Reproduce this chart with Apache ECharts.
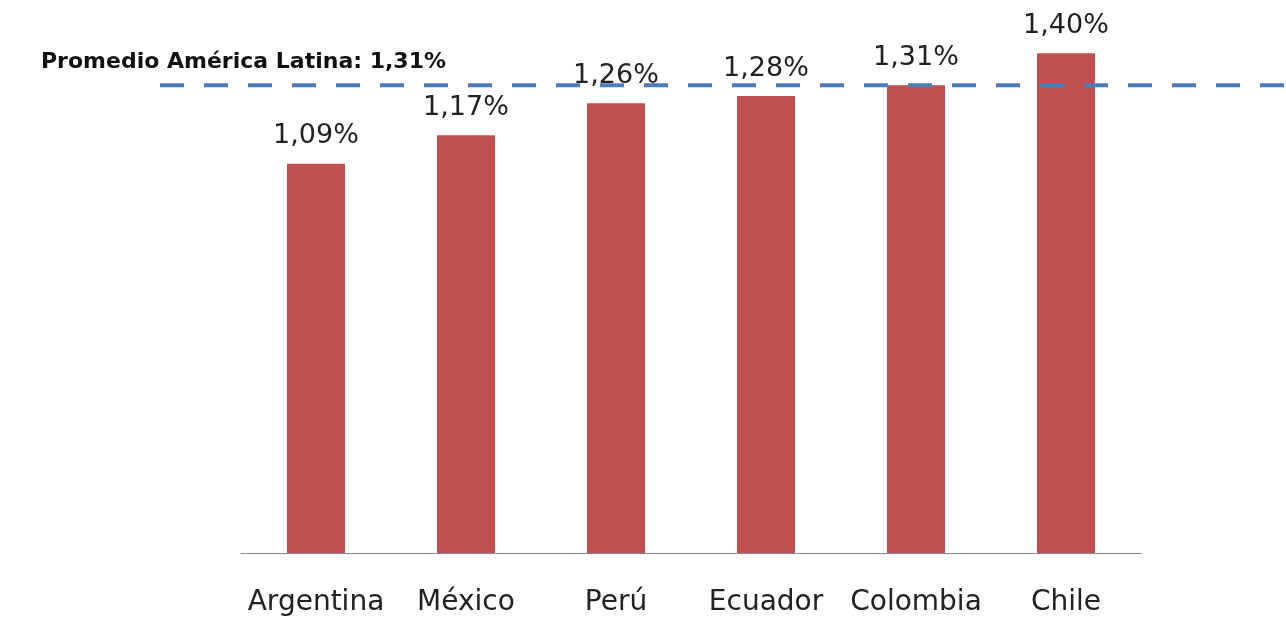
<!DOCTYPE html>
<html><head><meta charset="utf-8">
<script src="https://cdn.jsdelivr.net/npm/echarts@6/dist/echarts.min.js"></script>
<style>html,body{margin:0;padding:0;background:#fff}#c{width:1286px;height:620px}</style>
</head><body><div id="c"></div>
<script>
const categories = ['Argentina', 'México', 'Perú', 'Ecuador', 'Colombia', 'Chile'];
const values = [1.09, 1.17, 1.26, 1.28, 1.31, 1.40];
const averageValue = 1.31;
const averageLabel = 'Promedio América Latina: 1,31%';

const fmt = v => v.toFixed(2).replace('.', ',') + '%';
const FONT = '"DejaVu Sans", sans-serif';
const chart = echarts.init(document.getElementById('c'));
chart.setOption({
  animation: false,
  title: {
    text: averageLabel, left: 36, top: 46,
    textStyle: { fontFamily: FONT, fontSize: 22, fontWeight: 'bold', color: '#111' }
  },
  grid: [
    { left: 241, right: 145, top: 17.5, bottom: 67 },
    { left: 160, right: 0, top: 17.5, bottom: 67 }
  ],
  xAxis: [
    { type: 'category', data: categories, gridIndex: 0,
      axisLine: { lineStyle: { color: '#8a8a8a', width: 1 } },
      axisTick: { show: false },
      axisLabel: { interval: 0, fontFamily: FONT, fontSize: 28, color: '#222', margin: 36 } },
    { type: 'value', gridIndex: 1, min: 0, max: 1, show: false }
  ],
  yAxis: [
    { type: 'value', gridIndex: 0, min: 0, max: 1.5, show: false },
    { type: 'value', gridIndex: 1, min: 0, max: 1.5, show: false }
  ],
  series: [
    { type: 'bar', data: values, xAxisIndex: 0, yAxisIndex: 0, barWidth: 58,
      itemStyle: { color: '#c0504d' },
      label: { show: true, position: 'top', distance: 14, formatter: p => fmt(p.value),
        fontFamily: FONT, fontSize: 27, color: '#222' } },
    { type: 'line', xAxisIndex: 1, yAxisIndex: 1, data: [[0, averageValue], [1, averageValue]],
      symbol: 'none', z: 5,
      lineStyle: { color: '#4a7ebb', width: 4, type: [24, 20] } }
  ]
});
</script></body></html>
